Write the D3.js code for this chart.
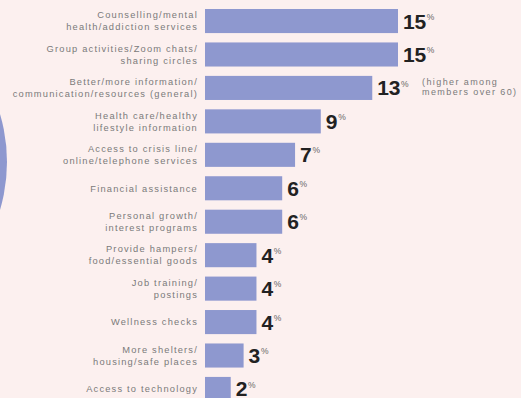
<!DOCTYPE html>
<html>
<head>
<meta charset="utf-8">
<script src="https://cdn.jsdelivr.net/npm/d3@7"></script>
<style>
  html, body { margin: 0; padding: 0; background: #fcf0ef; }
  svg { display: block; }
</style>
</head>
<body>
<svg id="chart" width="521" height="398"></svg>
<script>
// Support services members would like to see (share of mentions)
const categories = [
  "Counselling/mental\nhealth/addiction services",
  "Group activities/Zoom chats/\nsharing circles",
  "Better/more information/\ncommunication/resources (general)",
  "Health care/healthy\nlifestyle information",
  "Access to crisis line/\nonline/telephone services",
  "Financial assistance",
  "Personal growth/\ninterest programs",
  "Provide hampers/\nfood/essential goods",
  "Job training/\npostings",
  "Wellness checks",
  "More shelters/\nhousing/safe places",
  "Access to technology"
];
const values = [15, 15, 13, 9, 7, 6, 6, 4, 4, 4, 3, 2];
const notes = ["", "", "(higher among\nmembers over 60)", "", "", "", "", "", "", "", "", ""];
const unit = "%";

const W = 521, H = 398;
const barColor = "#8e98cf";
const labelFont = "Liberation Sans, Arial, sans-serif";
const svg = d3.select("#chart");

svg.append("rect").attr("width", W).attr("height", H).attr("fill", "#fcf0ef");

// edge of the neighbouring panel's disc, cut off by the frame
svg.append("circle")
  .attr("cx", -161).attr("cy", 162).attr("r", 168)
  .attr("fill", barColor);

const x = d3.scaleLinear().domain([0, 15]).range([205, 398]);
const y = d3.scaleBand()
  .domain(d3.range(categories.length))
  .range([9, 401])
  .paddingInner(0.28)
  .paddingOuter(0);

const rows = svg.append("g").selectAll("g")
  .data(values)
  .join("g");

// bars
rows.append("rect")
  .attr("x", x(0))
  .attr("y", (d, i) => y(i))
  .attr("width", d => x(d) - x(0))
  .attr("height", y.bandwidth())
  .attr("fill", barColor);

// category labels (one or two lines, centred on the bar)
const lineGap = 12;
rows.append("text")
  .attr("text-anchor", "end")
  .attr("font-family", labelFont)
  .attr("font-size", 9.3)
  .attr("letter-spacing", 1.2)
  .attr("fill", "#7a7a7a")
  .each(function (d, i) {
    const lines = categories[i].split("\n");
    const cy = y(i) + y.bandwidth() / 2;
    const first = cy + 3.3 - (lines.length - 1) * lineGap / 2;
    d3.select(this).selectAll("tspan")
      .data(lines)
      .join("tspan")
      .attr("x", 198)
      .attr("y", (l, k) => first + k * lineGap)
      .text(l => l);
  });

// value labels with small superscript unit
const valueLabels = rows.append("text")
  .attr("class", "value")
  .attr("x", d => x(d) + 5)
  .attr("y", (d, i) => y(i) + y.bandwidth() / 2 + 7.5)
  .attr("font-family", labelFont);

valueLabels.append("tspan")
  .attr("font-size", 21)
  .attr("font-weight", "bold")
  .attr("letter-spacing", -0.3)
  .attr("fill", "#222")
  .text(d => d);

valueLabels.append("tspan")
  .attr("font-size", 8.5)
  .attr("dx", 1)
  .attr("dy", -8.9)
  .attr("fill", "#666")
  .text(unit);

// side notes next to a value label
valueLabels.each(function (d, i) {
  if (!notes[i]) return;
  const box = this.getBBox();
  const cy = y(i) + y.bandwidth() / 2;
  const lines = notes[i].split("\n");
  svg.append("text")
    .attr("font-family", labelFont)
    .attr("font-size", 9)
    .attr("letter-spacing", 1.4)
    .attr("fill", "#7a7a7a")
    .selectAll("tspan")
    .data(lines)
    .join("tspan")
    .attr("x", box.x + box.width + 13)
    .attr("y", (l, k) => cy - 3 + k * 10)
    .text(l => l);
});
</script>
</body>
</html>
